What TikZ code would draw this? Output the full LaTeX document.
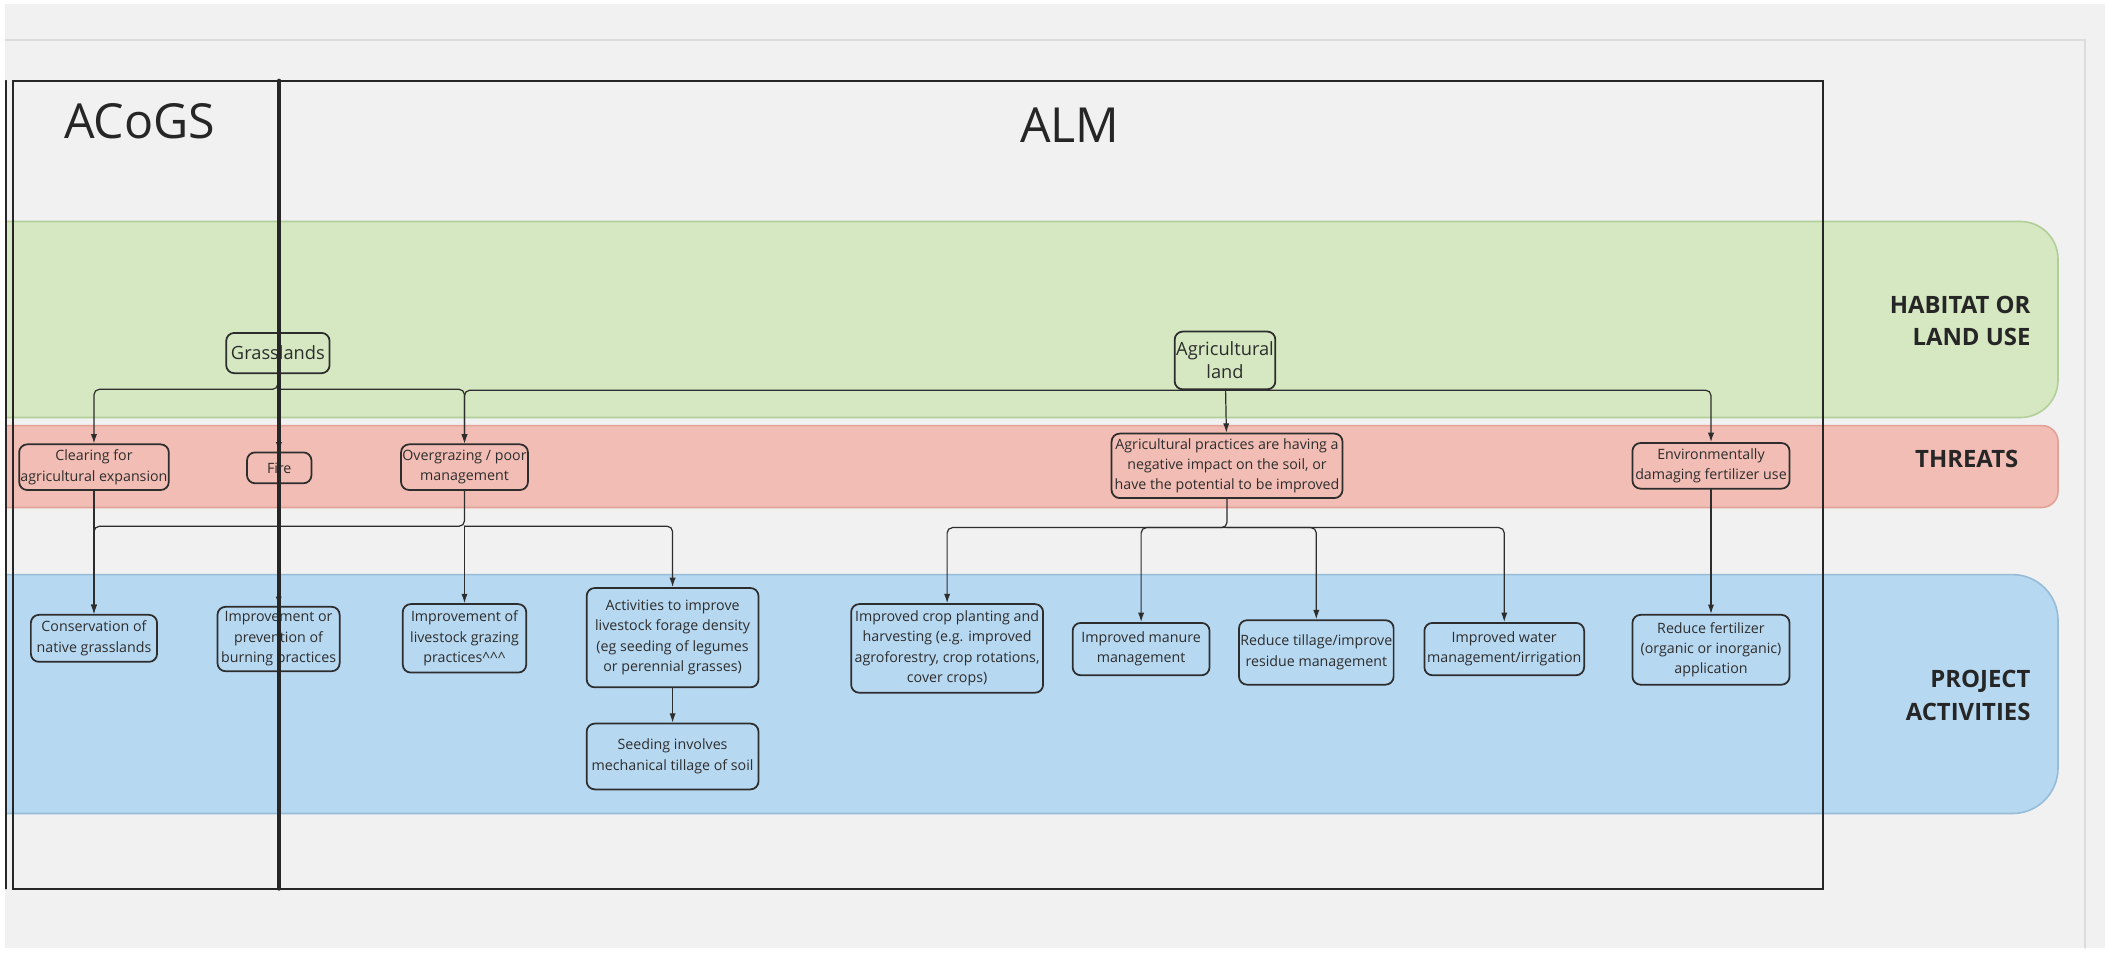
\documentclass[tikz,border=0pt]{standalone}
\usepackage{fontspec}
\setmainfont{Open Sans}
\usetikzlibrary{arrows.meta}
\definecolor{canvas}{RGB}{241,241,241}
\definecolor{rim}{RGB}{220,220,220}
\definecolor{ink}{RGB}{45,45,45}
\definecolor{habfill}{RGB}{213,232,194}
\definecolor{habline}{RGB}{178,207,153}
\definecolor{thrfill}{RGB}{242,189,180}
\definecolor{thrline}{RGB}{227,162,152}
\definecolor{actfill}{RGB}{183,216,241}
\definecolor{actline}{RGB}{150,188,216}

\begin{document}
\begin{tikzpicture}[x=1pt,y=-1pt,line cap=round]
	\tikzstyle{box}=[draw=ink,line width=1.3pt,rounded corners=6pt,align=center,inner sep=1pt,text=ink,font=\fontsize{10.6}{15.2}\selectfont];
	\tikzstyle{bigbox}=[box,font=\fontsize{13.6}{17}\selectfont];
	\tikzstyle{link}=[draw=ink,line width=0.9pt,rounded corners=4pt,-{Latex[length=7pt,width=4.6pt]}];
	\tikzstyle{lane}=[font=\bfseries\fontsize{17.8}{24}\selectfont,text=black!85,align=right];
	\tikzstyle{title}=[font=\fontsize{36}{40}\selectfont,text=black!85];
	\tikzstyle{frame}=[draw=black!85,line width=1.5pt];

	\useasboundingbox (0,0) rectangle (1568,711);
	\fill[white] (0,0) rectangle (1568,711);
	\fill[canvas] (4,3) rectangle (1568,706);
	\draw[rim,line width=1.5pt] (4,30) -- (1553,30) -- (1553,706);

	\begin{scope}
		\clip (4,0) rectangle (1568,711);
		\filldraw[fill=habfill,draw=habline,line width=1.2pt,rounded corners=28pt] (-40,165) rectangle (1533,311);
		\filldraw[fill=thrfill,draw=thrline,line width=1.2pt,rounded corners=12pt] (-40,317) rectangle (1533,378);
		\filldraw[fill=actfill,draw=actline,line width=1.2pt,rounded corners=34pt] (-40,428) rectangle (1533,606);
	\end{scope}

	\node[lane,anchor=east] (habitat) at (1516,239) {HABITAT OR\\LAND USE};
	\node[lane] (threats) at (1465,342) {THREATS};
	\node[lane,anchor=east] (project) at (1516,518) {PROJECT\\ACTIVITIES};

	\node[bigbox,minimum width=77pt,minimum height=30pt] (grass) at (207,263) {Grasslands};
	\node[bigbox,minimum width=75pt,minimum height=43pt] (agland) at (912.5,268.5) {Agricultural\\land};

	\node[box,minimum width=110pt,minimum height=34pt] (clearing) at (70,348) {Clearing for\\agricultural expansion};
	\node[box,minimum width=48pt,minimum height=23pt] (fire) at (208,348.5) {Fire};
	\node[box,minimum width=92pt,minimum height=34pt] (overgraze) at (346,348) {Overgrazing / poor\\management};
	\node[box,minimum width=172pt,minimum height=48pt] (agprac) at (914,347) {Agricultural practices are having a\\negative impact on the soil, or\\have the potential to be improved};
	\node[box,minimum width=117pt,minimum height=34pt] (envuse) at (1274.5,347) {Environmentally\\damaging fertilizer use};

	\node[box,minimum width=94pt,minimum height=35pt] (conserv) at (70,475.5) {Conservation of\\native grasslands};
	\node[box,minimum width=91pt,minimum height=48pt] (burning) at (207.5,476) {Improvement or\\prevention of\\burning practices};
	\node[box,minimum width=92pt,minimum height=51pt] (grazing) at (346,475.5) {Improvement of\\livestock grazing\\practices\textasciicircum\textasciicircum\textasciicircum};
	\node[box,minimum width=128pt,minimum height=74pt] (forage) at (501,475) {Activities to improve\\livestock forage density\\(eg seeding of legumes\\or perennial grasses)};
	\node[box,minimum width=128pt,minimum height=49pt] (seeding) at (501,563.5) {Seeding involves\\mechanical tillage of soil};
	\node[box,minimum width=143pt,minimum height=66pt] (crop) at (705.5,483) {Improved crop planting and\\harvesting (e.g. improved\\agroforestry, crop rotations,\\cover crops)};
	\node[box,minimum width=102pt,minimum height=39pt] (manure) at (850,483.5) {Improved manure\\management};
	\node[box,minimum width=115pt,minimum height=48pt] (tillage) at (980.5,486) {Reduce tillage/improve\\residue management};
	\node[box,minimum width=119pt,minimum height=39pt] (water) at (1120.5,483.5) {Improved water\\management/irrigation};
	\node[box,minimum width=117pt,minimum height=52pt] (fertred) at (1274.5,484) {Reduce fertilizer\\(organic or inorganic)\\application};

	\coordinate (gfork) at (207,290);
	\coordinate (ogfork) at (346,392);
	\coordinate (apfork) at (914,393);

	\draw[link] (grass) -- (gfork) -| (clearing);
	\draw[link] (gfork) -| (overgraze);
	\draw[link] (grass) -- (fire);
	\draw[link] (agland.south) -| (overgraze);
	\draw[link] (agland.south) -| (envuse);
	\draw[link] (agland) -- (agprac);
	\draw[link] (fire) -- (burning);
	\draw[link] (clearing) -- (conserv);
	\draw[link] (overgraze) -- (ogfork) -| (conserv);
	\draw[link] (ogfork) -- (grazing);
	\draw[link] (ogfork) -| (forage);
	\draw[link] (forage) -- (seeding);
	\draw[link] (agprac) -- (apfork) -| (crop);
	\draw[link] (apfork) -| (manure);
	\draw[link] (apfork) -| (tillage);
	\draw[link] (apfork) -| (water);
	\draw[link] (envuse) -- (fertred);

	\draw[frame] (9.5,60) rectangle (1358,662);
	\draw[frame,line width=0.9pt] (4.5,60) -- (4.5,662);
	\draw[frame,line width=2.8pt] (208,60) -- (208,662);
	\node[title] (acogs) at (104,90) {ACoGS};
	\node[title] (alm) at (797,93) {ALM};
\end{tikzpicture}
\end{document}
